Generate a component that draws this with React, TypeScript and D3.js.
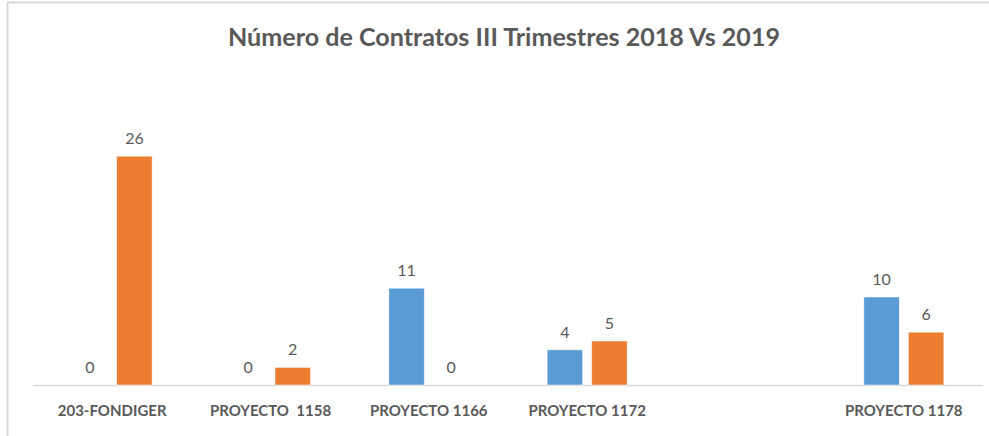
import React from "react";
import * as d3 from "d3";

const categories = ["203-FONDIGER", "PROYECTO  1158", "PROYECTO 1166", "PROYECTO 1172", "", "PROYECTO 1178"];
const series2018: (number | null)[] = [0, 0, 11, 4, null, 10];
const series2019: (number | null)[] = [26, 2, 0, 5, null, 6];
const title = "Número de Contratos III Trimestres 2018 Vs 2019";
const yMax = 30;

const W = 989;
const H = 436;
const BLUE = "#5B9BD5";
const ORANGE = "#ED7D31";
const TEXT = "#595959";
const FONT = "Lato, 'Open Sans', sans-serif";

export default function App() {
  const x = d3.scaleBand<string>().domain(categories.map((c, i) => String(i))).range([33, 983]).padding(0);
  const y = d3.scaleLinear().domain([0, yMax]).range([385, 121]);
  const barW = 35.5;
  const gap = 9;
  const series = [
    { values: series2018, color: BLUE, offset: -(gap / 2 + barW) },
    { values: series2019, color: ORANGE, offset: gap / 2 },
  ];
  return (
    <svg width={W} height={H} style={{ position: "absolute", left: 0, top: 0, background: "#fff" }} fontFamily={FONT}>
      <rect x={0} y={0} width={W} height={H} fill="#fff" />
      <line x1={7.5} y1={2} x2={7.5} y2={H} stroke="#d9d9d9" strokeWidth={2} />
      <line x1={7} y1={2.5} x2={W} y2={2.5} stroke="#d9d9d9" strokeWidth={2} />
      <text x={504} y={46} textAnchor="middle" fontSize={24} fontWeight="bold" fill={TEXT} textLength={552} lengthAdjust="spacingAndGlyphs">{title}</text>
      <line x1={33} x2={983} y1={y(0) + 0.5} y2={y(0) + 0.5} stroke="#d9d9d9" strokeWidth={1.5} />
      {series.map((s, si) =>
        s.values.map((v, i) => {
          if (v === null) return null;
          const cx = x(String(i))! + x.bandwidth() / 2;
          const bx = cx + s.offset;
          return (
            <g key={`${si}-${i}`}>
              {v > 0 && (
                <rect x={bx} y={y(v)} width={barW} height={y(0) - y(v)} fill={s.color} stroke="#ffffff" strokeOpacity={0.6} strokeWidth={0.8} />
              )}
              <text x={bx + barW / 2} y={y(v) - 12} textAnchor="middle" fontSize={16} fill={TEXT}>{v}</text>
            </g>
          );
        })
      )}
      {categories.map((c, i) => (
        <text key={i} x={x(String(i))! + x.bandwidth() / 2} y={416} textAnchor="middle" fontSize={15} fontWeight="bold" fill={TEXT} style={{ whiteSpace: "pre" }}>{c}</text>
      ))}
    </svg>
  );
}
